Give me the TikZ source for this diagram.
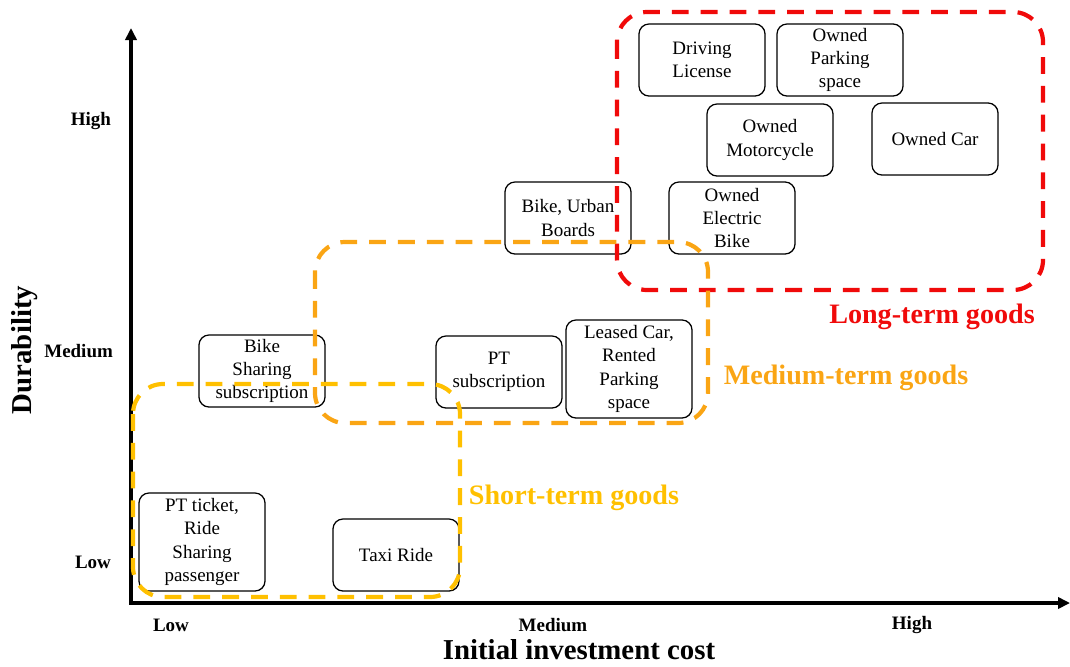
\documentclass[tikz,border=0pt]{standalone}
\usepackage{fontspec}
\setmainfont{Liberation Serif}
\usetikzlibrary{arrows.meta}
\definecolor{longred}{RGB}{240,10,10}
\definecolor{midorange}{RGB}{250,165,20}
\definecolor{shortyellow}{RGB}{255,192,0}

\begin{document}
\begin{tikzpicture}[x=0.025cm,y=-0.025cm,>={Triangle[length=0.3cm,width=0.28cm]},semithick]
  \tikzstyle{good}=[draw=black,line width=0.9pt,rounded corners=0.25cm,fill=white,align=center,
                    minimum width=3.15cm,minimum height=1.8cm,inner sep=2pt,
                    font=\fontsize{13.5}{16.5}\selectfont]
  \tikzstyle{tall}=[minimum height=2.45cm]
  \tikzstyle{tick}=[font=\bfseries\fontsize{13.5}{16}\selectfont]
  \tikzstyle{axis title}=[font=\bfseries\fontsize{20.5}{24}\selectfont]
  \tikzstyle{region}=[line width=3pt,dash pattern=on 0.42cm off 0.3cm,rounded corners=0.75cm]
  \tikzstyle{region title}=[font=\bfseries\fontsize{20}{24}\selectfont]

  \useasboundingbox (0,0) rectangle (1070,666);

  % axes
  \coordinate (O) at (131,603);
  \coordinate (ytop) at (131,28);
  \coordinate (xend) at (1070,603);
  \draw[<->,line width=2.3pt] (ytop) -- (O) -- (xend);

  \node[tick,anchor=east] (yhigh) at (116,121) {High};
  \node[tick,anchor=east] (ymed)  at (118,351) {Medium};
  \node[tick,anchor=east] (ylow)  at (116,562) {Low};
  \node[tick] (xlow)  at (171,625) {Low};
  \node[tick] (xmed)  at (553,625) {Medium};
  \node[tick] (xhigh) at (912,625) {High};
  \node[axis title,rotate=90] (ytitle) at (25,350) {Durability};
  \node[axis title] (xtitle) at (579,650) {Initial investment cost};

  % goods
  \node[good] (DL)  at (702,60)  {Driving\\License};
  \node[good] (OPS) at (840,60)  {Owned\\Parking\\space};
  \node[good] (OM)  at (770,140) {Owned\\Motorcycle};
  \node[good] (OC)  at (935,139) {Owned Car};
  \node[good] (OEB) at (732,218) {Owned\\Electric\\Bike};
  \node[good] (BUB) at (568,218) {Bike, Urban\\Boards};
  \node[good] (BSS) at (262,371) {Bike\\Sharing\\subscription};
  \node[good] (PTS) at (499,372) {PT\\subscription};
  \node[good,tall] (LC)  at (629,369) {Leased Car,\\Rented\\Parking\\space};
  \node[good,tall] (PTT) at (202,542) {PT ticket,\\Ride\\Sharing\\passenger};
  \node[good] (TR)  at (396,555) {Taxi Ride};

  % groups
  \draw[region,longred]     (617,12)  rectangle (1043,290);
  \draw[region,midorange]   (315,242) rectangle (708,423);
  \draw[region,shortyellow] (133,384) rectangle (460,597);

  \node[region title,text=longred]     (LT) at (932,317) {Long-term goods};
  \node[region title,text=midorange]   (MT) at (846,378) {Medium-term goods};
  \node[region title,text=shortyellow] (ST) at (574,498) {Short-term goods};
\end{tikzpicture}
\end{document}
